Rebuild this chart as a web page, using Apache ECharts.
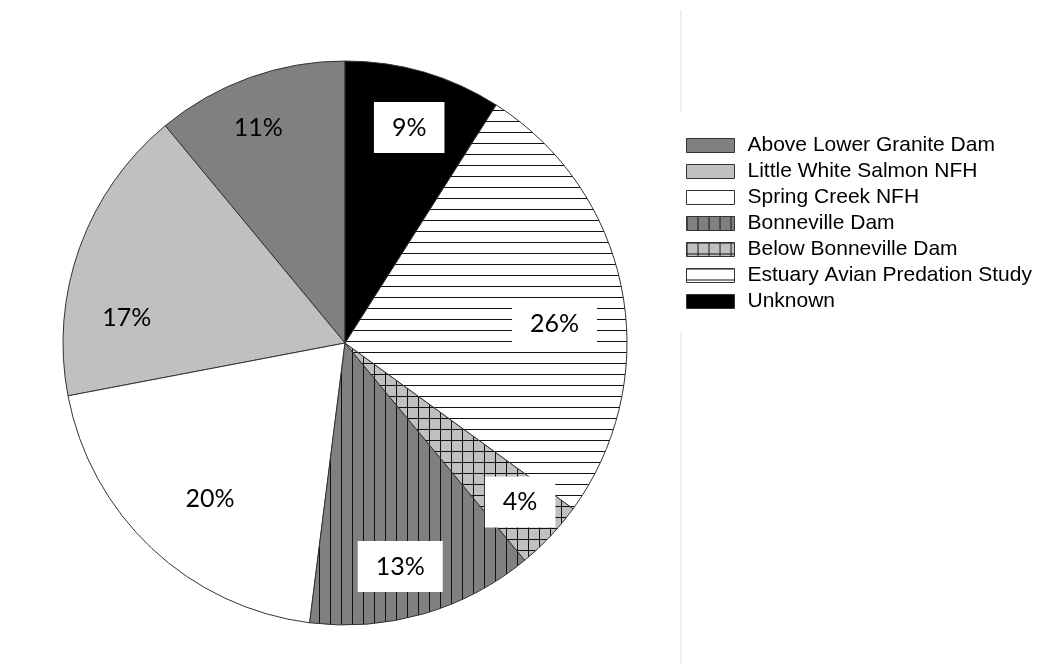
<!DOCTYPE html>
<html>
<head>
<meta charset="utf-8">
<script src="https://cdn.jsdelivr.net/npm/echarts@6/dist/echarts.min.js"></script>
<style>
  html, body { margin: 0; padding: 0; background: #fff; }
  #chart { width: 1040px; height: 664px; }
</style>
</head>
<body>
<div id="chart"></div>
<script>
// slices, counter-clockwise from 12 o'clock (same order as the legend)
const sources = [
  'Above Lower Granite Dam',
  'Little White Salmon NFH',
  'Spring Creek NFH',
  'Bonneville Dam',
  'Below Bonneville Dam',
  'Estuary Avian Predation Study',
  'Unknown'
];
const shares = [11, 17, 20, 13, 4, 26, 9];

// fill for each slice
const fills = ['solidDark', 'solidLight', 'solidWhite', 'vLines', 'grid', 'hLines', 'solidBlack'];
// which labels get a white box behind them
const boxed = [false, false, false, true, true, true, true];
// small nudges so labels sit where the "best fit" placement put them
const labelNudge = [[-10, -2], [-5, 52], [20, -9], [-8, 6], [10, 4], [-13, 23], [1, 2]];

const makePattern = (bg, step, horiz, vert) => {
  const c = document.createElement('canvas');
  c.width = step;
  c.height = step;
  const ctx = c.getContext('2d');
  ctx.fillStyle = bg;
  ctx.fillRect(0, 0, step, step);
  ctx.fillStyle = '#111';
  if (horiz) ctx.fillRect(0, 0, step, 1);
  if (vert) ctx.fillRect(0, 0, 1, step);
  return { image: c, repeat: 'repeat' };
};

const fillStyles = {
  solidDark: '#808080',
  solidLight: '#c0c0c0',
  solidWhite: '#ffffff',
  solidBlack: '#000000',
  vLines: makePattern('#808080', 11, false, true),
  grid: makePattern('#c0c0c0', 11, true, true),
  hLines: makePattern('#ffffff', 11, true, false)
};

const chart = echarts.init(document.getElementById('chart'));

const option = {
  backgroundColor: '#ffffff',
  animation: false,
  legend: {
    orient: 'vertical',
    left: 686,
    top: 135,
    padding: 0,
    itemWidth: 48,
    itemHeight: 14,
    itemGap: 5,
    icon: 'rect',
    selectedMode: false,
    data: sources,
    itemStyle: { borderColor: '#333', borderWidth: 1 },
    textStyle: {
      fontFamily: 'Liberation Sans, Arial, sans-serif',
      fontSize: 21,
      lineHeight: 20,
      color: '#000',
      padding: [0, 0, 0, 8]
    }
  },
  graphic: [
    {
      type: 'line',
      silent: true,
      shape: { x1: 681, y1: 10, x2: 681, y2: 112 },
      style: { stroke: '#ebebeb', lineWidth: 1.5 }
    },
    {
      type: 'line',
      silent: true,
      shape: { x1: 681, y1: 331, x2: 681, y2: 664 },
      style: { stroke: '#ebebeb', lineWidth: 1.5 }
    }
  ],
  series: [
    {
      name: 'Release site',
      type: 'pie',
      center: [345, 343],
      radius: 282,
      startAngle: 90,
      clockwise: false,
      label: { show: false },
      labelLine: { show: false },
      emphasis: { disabled: true },
      itemStyle: { borderColor: '#333', borderWidth: 1 },
      data: sources.map((name, i) => ({
        name,
        value: shares[i],
        itemStyle: { color: fillStyles[fills[i]] }
      }))
    },
    {
      name: 'labels',
      type: 'pie',
      center: [345, 343],
      radius: [165, 282],
      startAngle: 90,
      clockwise: false,
      silent: true,
      emphasis: { disabled: true },
      itemStyle: { color: 'rgba(0,0,0,0)', borderWidth: 0 },
      labelLine: { show: false },
      label: {
        show: true,
        position: 'inside',
        formatter: (p) => p.value + '%',
        fontFamily: 'Lato, sans-serif',
        fontSize: 25,
        lineHeight: 25,
        color: '#000'
      },
      data: sources.map((name, i) => ({
        name,
        value: shares[i],
        label: Object.assign(
          { offset: labelNudge[i] },
          boxed[i] ? { backgroundColor: '#ffffff', padding: [13, 18] } : {}
        )
      }))
    }
  ]
};

chart.setOption(option);
</script>
</body>
</html>
